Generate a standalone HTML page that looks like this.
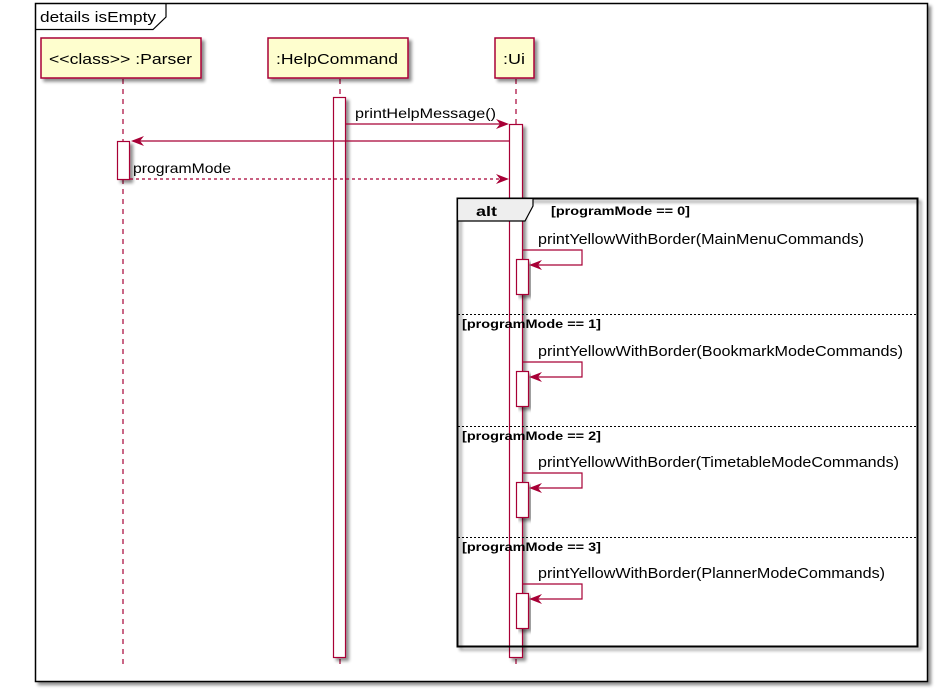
<!DOCTYPE html>
<html><head><meta charset="utf-8"><style>
html,body{margin:0;padding:0;background:#fff;}
svg{display:block;font-family:"Liberation Sans",sans-serif;}
</style></head><body>
<svg width="940" height="693" viewBox="0 0 940 693" xmlns="http://www.w3.org/2000/svg">
<defs>
<filter id="sh" x="-10%" y="-10%" width="130%" height="130%"><feGaussianBlur in="SourceAlpha" stdDeviation="1.5"/><feOffset dx="3" dy="3"/><feComponentTransfer><feFuncA type="linear" slope="0.45"/></feComponentTransfer><feMerge><feMergeNode/><feMergeNode in="SourceGraphic"/></feMerge></filter>
</defs>
<rect x="35.5" y="3.5" width="892" height="678" fill="#fff" stroke="#000" stroke-width="1.5" filter="url(#sh)"/>
<path d="M35.5 29.5 H153 L166 17 V3.5" fill="none" stroke="#000" stroke-width="1.2"/>
<text x="40" y="22" font-size="15" textLength="116" lengthAdjust="spacingAndGlyphs">details isEmpty</text>

<g stroke="#A80036" stroke-width="1.2" stroke-dasharray="5,5">
<line x1="123" y1="79" x2="123" y2="666"/>
<line x1="340" y1="79" x2="340" y2="666"/>
<line x1="516" y1="79" x2="516" y2="666"/>
</g>

<g fill="#FEFECE" stroke="#A80036" stroke-width="1.5" filter="url(#sh)">
<rect x="41" y="38" width="160" height="40"/>
<rect x="268" y="38" width="140" height="40"/>
<rect x="495" y="38" width="39" height="40"/>
</g>
<g font-size="15" fill="#000">
<text x="49" y="64" textLength="143" lengthAdjust="spacingAndGlyphs">&lt;&lt;class&gt;&gt; :Parser</text>
<text x="276" y="64" textLength="122" lengthAdjust="spacingAndGlyphs">:HelpCommand</text>
<text x="503" y="64" textLength="22" lengthAdjust="spacingAndGlyphs">:Ui</text>
</g>

<g fill="#fff" stroke="#A80036" stroke-width="1.2" filter="url(#sh)">
<rect x="333.5" y="97.5" width="12" height="560"/>
<rect x="509.5" y="124.5" width="13" height="533"/>
<rect x="117.5" y="141.5" width="12" height="38"/>
</g>

<g stroke="#A80036" stroke-width="1.2" fill="none">
<line x1="346" y1="124" x2="507" y2="124"/>
<line x1="509" y1="141" x2="133" y2="141"/>
<line x1="130" y1="179" x2="507" y2="179" stroke-dasharray="3,3"/>
</g>
<g fill="#A80036">
<path d="M509 124 L496 119 L500 124 L496 129 Z"/>
<path d="M131 141 L144 136 L140 141 L144 146 Z"/>
<path d="M509 179 L496 174 L500 179 L496 184 Z"/>
</g>
<g font-size="14" fill="#000">
<text x="355" y="118" textLength="141" lengthAdjust="spacingAndGlyphs">printHelpMessage()</text>
<text x="133" y="173" textLength="98" lengthAdjust="spacingAndGlyphs">programMode</text>
</g>

<rect x="457.5" y="198.5" width="460" height="448" fill="none" stroke="#000" stroke-width="2" filter="url(#sh)"/>
<path d="M457.5 198.5 H533 V206 L525 221 H457.5 Z" fill="#EEEEEE" stroke="#000" stroke-width="1.2"/>
<text x="476" y="216" font-size="14" font-weight="bold" textLength="21" lengthAdjust="spacingAndGlyphs">alt</text>
<g stroke="#000" stroke-width="1" stroke-dasharray="2,2">
<line x1="458" y1="314.5" x2="917" y2="314.5"/>
<line x1="458" y1="426.5" x2="917" y2="426.5"/>
<line x1="458" y1="537.5" x2="917" y2="537.5"/>
</g>
<g font-size="12" font-weight="bold" fill="#000">
<text x="551" y="215" textLength="139" lengthAdjust="spacingAndGlyphs">[programMode == 0]</text>
<text x="462" y="328" textLength="139" lengthAdjust="spacingAndGlyphs">[programMode == 1]</text>
<text x="462" y="440" textLength="139" lengthAdjust="spacingAndGlyphs">[programMode == 2]</text>
<text x="462" y="551" textLength="139" lengthAdjust="spacingAndGlyphs">[programMode == 3]</text>
</g>

<g fill="#fff" stroke="#A80036" stroke-width="1.2" filter="url(#sh)">
<rect x="516.5" y="259.5" width="12" height="35"/>
<rect x="516.5" y="371.5" width="12" height="35"/>
<rect x="516.5" y="482.5" width="12" height="35"/>
<rect x="516.5" y="593.5" width="12" height="35"/>
</g>
<g stroke="#A80036" stroke-width="1.2" fill="none">
<path d="M523 250 H582 V265 H532"/>
<path d="M523 362 H582 V377 H532"/>
<path d="M523 473 H582 V488 H532"/>
<path d="M523 584 H582 V599 H532"/>
</g>
<g fill="#A80036">
<path d="M529 265 L542 260 L538 265 L542 270 Z"/>
<path d="M529 377 L542 372 L538 377 L542 382 Z"/>
<path d="M529 488 L542 483 L538 488 L542 493 Z"/>
<path d="M529 599 L542 594 L538 599 L542 604 Z"/>
</g>
<g font-size="15" fill="#000">
<text x="538" y="244" textLength="326" lengthAdjust="spacingAndGlyphs">printYellowWithBorder(MainMenuCommands)</text>
<text x="538" y="356" textLength="365" lengthAdjust="spacingAndGlyphs">printYellowWithBorder(BookmarkModeCommands)</text>
<text x="538" y="467" textLength="361" lengthAdjust="spacingAndGlyphs">printYellowWithBorder(TimetableModeCommands)</text>
<text x="538" y="578" textLength="347" lengthAdjust="spacingAndGlyphs">printYellowWithBorder(PlannerModeCommands)</text>
</g>
</svg>
</body></html>
